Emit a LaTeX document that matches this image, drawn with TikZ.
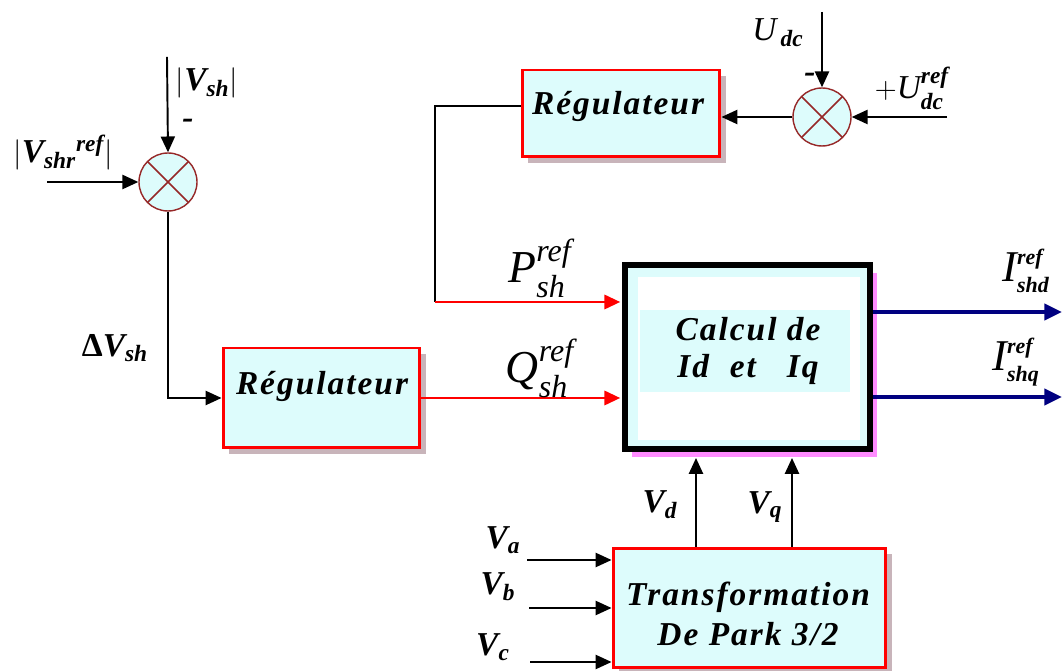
\documentclass[tikz,border=0pt]{standalone}
\usepackage{amsmath}
\usepackage{fontspec}
\setmainfont{Liberation Serif}
\newfontfamily\boxfont[LetterSpace=6]{Liberation Serif}
\usetikzlibrary{positioning,arrows.meta,calc}
\definecolor{boxfill}{RGB}{221,252,252}
\definecolor{sumedge}{RGB}{150,40,40}
\definecolor{regshadow}{RGB}{200,180,186}
\definecolor{calcshadow}{RGB}{255,140,255}
\definecolor{outblue}{RGB}{0,0,128}
\newcommand{\bi}[1]{\textbf{\textit{#1}}}

\begin{document}
\begin{tikzpicture}[x=0.02cm, y=-0.02cm, >={Triangle[length=9pt,width=8pt]},
    sig/.style={->, line width=1.1pt, black},
    redsig/.style={->, line width=1.7pt, red},
    outsig/.style={->, line width=2.8pt, outblue, >={Triangle[length=10pt,width=9pt]}},
    sumnode/.style={circle, draw=sumedge, fill=boxfill, line width=0.8pt, minimum size=1.16cm, inner sep=0pt,
        path picture={\draw[line width=0.9pt] (path picture bounding box.south west) -- (path picture bounding box.north east)
            (path picture bounding box.north west) -- (path picture bounding box.south east);}},
    regbox/.style={draw=red, line width=1.7pt, fill=boxfill,
        preaction={fill=regshadow, transform canvas={xshift=3.4pt, yshift=-3.4pt}}},
    calcbox/.style={draw=black, line width=3.4pt, fill=boxfill,
        preaction={fill=calcshadow, transform canvas={xshift=4pt, yshift=-4.5pt}}},
    boxtxt/.style={font=\boxfont\bfseries\itshape\fontsize{19}{22}\selectfont, align=center},
    lbl/.style={font=\bfseries\itshape\fontsize{19}{21}\selectfont},
    biglbl/.style={font=\itshape\fontsize{26}{28}\selectfont}]

    \useasboundingbox (0,0) rectangle (1062,671);

    % ================= VOLTAGE LOOP =================
    \node[sumnode] (sum1) at (168,182) {};
    \coordinate (vshin) at (167,57);
    \coordinate (vshrefin) at (47,182);
    \draw[sig] (vshin) -- (sum1.north);
    \draw[sig] (vshrefin) -- (sum1.west);
    \node[lbl] (vshlbl) at (207,83) {$|\bi{V}_{\bi{sh}}|$};
    \node[lbl] (minus1) at (188,124) {-};
    \node[lbl] (vshreflbl) at (63,153) {$|\bi{V}_{\bi{shr}}{}^{\bi{ref}}|$};

    \node[regbox, minimum width=3.94cm, minimum height=2cm] (reg1) at (321.5,398) {};
    \node[boxtxt] (reg1txt) at (322,386) {Régulateur};
    \draw[sig] (sum1.south) |- (reg1.west);
    \node[lbl] (dvlbl) at (115,348) {{\upshape Δ}$\bi{V}_{\bi{sh}}$};

    % ================= DC BUS LOOP =================
    \node[sumnode] (sum2) at (822,117) {};
    \coordinate (udcin) at (822,12);
    \coordinate (udcrefin) at (947,117);
    \draw[sig] (udcin) -- (sum2.north);
    \draw[sig] (udcrefin) -- (sum2.east);
    \node[lbl, font=\itshape\fontsize{19}{21}\selectfont] (udclbl) at (778,33) {$\textit{U}_{\,\bi{dc}}$};
    \node[lbl] (minus2) at (810,78) {-};
    \node[lbl, font=\itshape\fontsize{19}{21}\selectfont] (udcreflbl) at (912,88) {$+\textit{U}^{\bi{ref}}_{\bi{dc}}$};

    \node[regbox, minimum width=3.96cm, minimum height=1.74cm] (reg2) at (621,113.5) {};
    \node[boxtxt] (reg2txt) at (618,106) {Régulateur};
    \draw[sig] (sum2.west) -- (sum2.west -| reg2.east);

    % ================= CALCUL DE Id ET Iq =================
    \node[calcbox, minimum width=4.9cm, minimum height=3.68cm] (calc) at (747.5,357) {};
    \fill[white] (638,277) rectangle (860,440);
    \fill[boxfill] (640,310) rectangle (850,392);
    \node[boxtxt, font=\boxfont\bfseries\itshape\fontsize{19}{21.5}\selectfont] (calctxt) at (748,351) {Calcul de\\Id\ \ et\ \ \ Iq};

    % P and Q references
    \coordinate (pbend) at (435,302);
    \draw[line width=1.1pt] ([yshift=4pt]reg2.west) -| (pbend);
    \draw[redsig, shorten >=1pt] (pbend) -- (pbend -| calc.west);
    \draw[redsig, shorten >=1pt] (reg1.east) -- (reg1.east -| calc.west);
    \node[biglbl] (plbl) at (540,268) {$\textit{P}^{\textit{ref}}_{\textit{sh}}$};
    \node[biglbl] (qlbl) at (540,368) {$\textit{Q}^{\textit{ref}}_{\textit{sh}}$};

    % Current references out
    \coordinate (idend) at (1062,312);
    \coordinate (iqend) at (1062,397);
    \draw[outsig] (calc.east |- idend) -- (idend);
    \draw[outsig] (calc.east |- iqend) -- (iqend);
    \node[font=\itshape\fontsize{25}{27}\selectfont] (idlbl) at (1026,271) {$\textit{I}^{\scriptscriptstyle\bi{ref}}_{\scriptscriptstyle\bi{shd}}$};
    \node[font=\itshape\fontsize{25}{27}\selectfont] (iqlbl) at (1016,362) {$\textit{I}^{\scriptscriptstyle\bi{ref}}_{\scriptscriptstyle\bi{shq}}$};

    % ================= PARK TRANSFORM =================
    \node[regbox, minimum width=5.46cm, minimum height=2.4cm] (park) at (749.5,608) {};
    \node[boxtxt, font=\boxfont\bfseries\itshape\fontsize{19}{23}\selectfont] (parktxt) at (748,614) {Transformation\\De Park 3/2};

    \coordinate (vdtip) at (696,458);
    \coordinate (vqtip) at (792,458);
    \draw[sig] (vdtip |- park.north) -- (vdtip);
    \draw[sig] (vqtip |- park.north) -- (vqtip);
    \node[lbl] (vdlbl) at (660,505) {$\bi{V}_{\bi{d}}$};
    \node[lbl] (vqlbl) at (765,507) {$\bi{V}_{\bi{q}}$};

    \coordinate (vain) at (527,560);
    \coordinate (vbin) at (529,608);
    \coordinate (vcin) at (530,662);
    \draw[sig] (vain) -- (vain -| park.west);
    \draw[sig] (vbin) -- (vbin -| park.west);
    \draw[sig] (vcin) -- (vcin -| park.west);
    \node[lbl] (valbl) at (503,540) {$\bi{V}_{\bi{a}}$};
    \node[lbl] (vblbl) at (498,587) {$\bi{V}_{\bi{b}}$};
    \node[lbl] (vclbl) at (493,647) {$\bi{V}_{\bi{c}}$};

\end{tikzpicture}
\end{document}
